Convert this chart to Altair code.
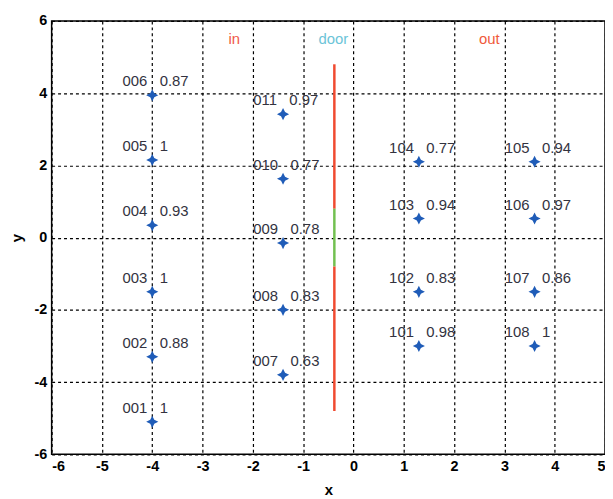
import altair as alt
import pandas as pd

# ---- data ----
ids = ["001", "002", "003", "004", "005", "006",
       "007", "008", "009", "010", "011",
       "101", "102", "103", "104",
       "105", "106", "107", "108"]
xs = [-4, -4, -4, -4, -4, -4,
      -1.4, -1.4, -1.4, -1.4, -1.4,
      1.3, 1.3, 1.3, 1.3,
      3.6, 3.6, 3.6, 3.6]
ys = [-5.1, -3.3, -1.5, 0.34, 2.15, 3.94,
      -3.8, -2.0, -0.15, 1.63, 3.42,
      -3.0, -1.5, 0.53, 2.1,
      2.1, 0.53, -1.5, -3.0]
scores = ["1", "0.88", "1", "0.93", "1", "0.87",
          "0.63", "0.83", "0.78", "0.77", "0.97",
          "0.98", "0.83", "0.94", "0.77",
          "0.94", "0.97", "0.86", "1"]

door_x = [-0.38, -0.38, -0.38]
door_y1 = [0.8, -0.8, -4.8]
door_y2 = [4.8, 0.8, -0.8]
door_part = ["wall", "door", "wall"]

zone_names = ["in", "door", "out"]
zone_x = [-2.37, -0.4, 2.7]
zone_y = [5.5, 5.5, 5.5]

x_ticks = [-6, -5, -4, -3, -2, -1, 0, 1, 2, 3, 4, 5]
y_ticks = [-6, -4, -2, 0, 2, 4, 6]

# ---- tables ----
pts = pd.DataFrame({"x": xs, "y": ys, "id": ids, "score": scores})
pts["label"] = pts["id"] + "\u00a0\u00a0\u00a0" + pts["score"]
door = pd.DataFrame({"x": door_x, "y": door_y1, "y2": door_y2, "part": door_part})
zones = pd.DataFrame({"x": zone_x, "y": zone_y, "name": zone_names})

xscale = alt.Scale(domain=[-6, 5], nice=False, zero=False)
yscale = alt.Scale(domain=[-6, 6], nice=False, zero=False)

axis_common = dict(
    grid=True, gridColor="black", gridDash=[3, 3], gridWidth=1.2, gridOpacity=1,
    domain=False, ticks=False,
    labelFont="Liberation Sans", labelFontWeight="bold", labelFontSize=14.5,
    labelColor="black", labelPadding=5,
    labelExpr="toString(datum.value)",
    titleFont="Liberation Sans", titleFontWeight="bold", titleFontSize=15,
    titleColor="black",
)

xenc = alt.X("x:Q", scale=xscale,
             axis=alt.Axis(values=x_ticks, title="x", titlePadding=10, **axis_common))
yenc = alt.Y("y:Q", scale=yscale,
             axis=alt.Axis(values=y_ticks, title="y", titlePadding=9, **axis_common))

star = "M0,-1L0.33,-0.33L1,0L0.33,0.33L0,1L-0.33,0.33L-1,0L-0.33,-0.33Z"

points = alt.Chart(pts).mark_point(
    shape=star, filled=True, size=150, color="#1f5cb8", opacity=1
).encode(x=xenc, y=yenc)

labels = alt.Chart(pts).mark_text(
    align="left", baseline="alphabetic", dx=-30, dy=-9,
    font="Liberation Sans", fontSize=15, color="#33333f"
).encode(x="x:Q", y="y:Q", text="label:N")

doors = alt.Chart(door).mark_rule(strokeWidth=2.5).encode(
    x="x:Q", y="y:Q", y2="y2:Q",
    color=alt.Color("part:N", scale=alt.Scale(domain=["wall", "door"],
                                              range=["#f04a30", "#72c050"]),
                    legend=None),
)

zone_text = alt.Chart(zones).mark_text(
    align="center", baseline="middle", font="Liberation Sans", fontSize=15
).encode(
    x="x:Q", y="y:Q", text="name:N",
    color=alt.Color("name:N", scale=alt.Scale(domain=["in", "door", "out"],
                                              range=["#f05a48", "#6cc4d8", "#f05a3c"]),
                    legend=None),
)

chart = alt.layer(points, doors, labels, zone_text).resolve_scale(color="independent").properties(
    width=558, height=437,
    autosize=alt.AutoSizeParams(type="none"),
    padding={"left": 44, "top": 11, "right": 0, "bottom": 44},
    background="white",
).configure_view(stroke="black", strokeWidth=1.5)

chart.save("out.html", embed_options={"renderer": "svg", "actions": False})
